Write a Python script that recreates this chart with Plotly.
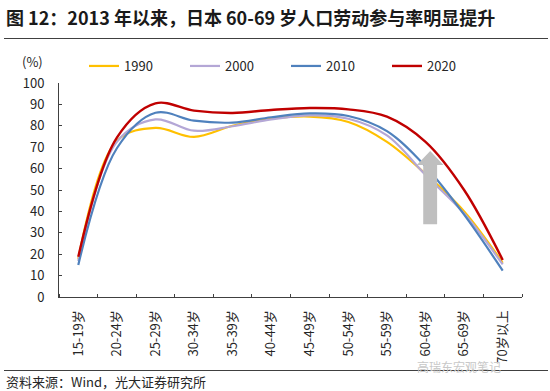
import plotly.graph_objects as go

categories = ["15-19岁", "20-24岁", "25-29岁", "30-34岁", "35-39岁", "40-44岁",
              "45-49岁", "50-54岁", "55-59岁", "60-64岁", "65-69岁", "70岁以上"]
y1990 = [17.8, 73.0, 79.0, 74.8, 80.0, 83.3, 84.3, 81.8, 72.5, 57.5, 40.0, 16.0]
y2000 = [16.8, 72.5, 83.0, 77.7, 79.8, 83.0, 84.9, 83.3, 75.5, 57.0, 39.0, 15.2]
y2010 = [15.0, 69.5, 86.1, 82.4, 81.5, 84.0, 85.8, 84.6, 77.5, 61.0, 38.5, 12.3]
y2020 = [18.8, 74.5, 90.5, 87.1, 86.0, 87.4, 88.3, 87.7, 84.3, 72.5, 50.0, 17.3]
series_names = ["1990", "2000", "2010", "2020"]
series_values = [y1990, y2000, y2010, y2020]
colors = ["#FFC000", "#B4A7D6", "#4F81BD", "#C00000"]
widths = [2.2, 2.2, 2.2, 2.4]

FONT = "Noto Sans CJK SC"
xs = list(range(len(categories)))

fig = go.Figure()
for name, vals, c, w in zip(series_names, series_values, colors, widths):
    fig.add_trace(go.Scatter(x=xs, y=vals, name=name, mode="lines",
                             line=dict(color=c, width=w, shape="spline", smoothing=1.0)))

L, R, T, B = 59, 28, 83, 94
W, H = 550, 391
pw, ph = W - L - R, H - T - B

def px(x):
    return (x - L) / pw

def py(y):
    return (H - B - y) / ph

# arrow (annotation shape)
cx, sw, hw = 9.12, 0.18, 0.345
tip, hb, bot = 68.2, 61.7, 34.0
arrow_path = (f"M{cx-sw},{bot} L{cx-sw},{hb} L{cx-hw},{hb} L{cx},{tip} "
              f"L{cx+hw},{hb} L{cx+sw},{hb} L{cx+sw},{bot} Z")

fig.update_layout(
    width=W, height=H,
    margin=dict(l=L, r=R, t=T, b=B, autoexpand=False),
    paper_bgcolor="white", plot_bgcolor="white",
    font=dict(family=FONT, size=13, color="#262626"),
    showlegend=True,
    legend=dict(orientation="h", x=px(84), y=py(66), xanchor="left", yanchor="middle",
                xref="paper", yref="paper",
                font=dict(size=13, family=FONT, color="#262626"),
                entrywidth=56, entrywidthmode="pixels",
                bgcolor="rgba(0,0,0,0)", tracegroupgap=0, itemwidth=30),
    xaxis=dict(range=[-0.5, len(categories) - 0.5], tickmode="array", tickvals=xs,
               ticktext=categories, tickangle=-90, ticks="", showgrid=False,
               zeroline=False, showline=True, linecolor="#404040", linewidth=1,
               ticklabelstandoff=7,
               tickfont=dict(size=13, family=FONT, color="#262626"),
               minor=dict(tickmode="array",
                          tickvals=[i - 0.5 for i in range(len(categories) + 1)],
                          ticks="inside", ticklen=3, tickcolor="#404040", showgrid=False)),
    yaxis=dict(range=[0, 100], dtick=10, ticks="inside", ticklen=3, tickcolor="#404040",
               showgrid=False, zeroline=False, showline=True, linecolor="#404040",
               linewidth=1, ticklabelstandoff=11,
               tickfont=dict(size=13, family=FONT, color="#262626")),
    shapes=[
        dict(type="path", path=arrow_path, xref="x", yref="y",
             fillcolor="#BFBFBF", line=dict(width=0), layer="above"),
        dict(type="line", xref="paper", yref="paper", x0=px(4), x1=px(548),
             y0=py(38.5), y1=py(38.5), line=dict(color="#404040", width=1)),
        dict(type="line", xref="paper", yref="paper", x0=px(4), x1=px(548),
             y0=py(370.5), y1=py(370.5), line=dict(color="#404040", width=1)),
    ],
    annotations=[
        dict(text="<b>图 12：2013 年以来，日本 60-69 岁人口劳动参与率明显提升</b>",
             xref="paper", yref="paper", x=px(4), y=py(17), xanchor="left",
             yanchor="middle", showarrow=False,
             font=dict(size=18, family=FONT, color="#1a1a1a")),
        dict(text="(%)", xref="paper", yref="paper", x=px(32), y=py(62),
             xanchor="center", yanchor="middle", showarrow=False,
             font=dict(size=13, family=FONT, color="#262626")),
        dict(text="资料来源：Wind，光大证券研究所", xref="paper", yref="paper",
             x=px(4), y=py(381), xanchor="left", yanchor="middle", showarrow=False,
             font=dict(size=13, family=FONT, color="#262626")),
        dict(text="高瑞东宏观笔记", xref="paper", yref="paper",
             x=px(415), y=py(366), xanchor="left", yanchor="middle", showarrow=False,
             font=dict(size=12, family=FONT, color="#C8C8C8")),
    ],
)

fig.write_html("out.html", config={"displayModeBar": False},
               post_script="document.body.style.margin='0';document.body.style.padding='0';")
